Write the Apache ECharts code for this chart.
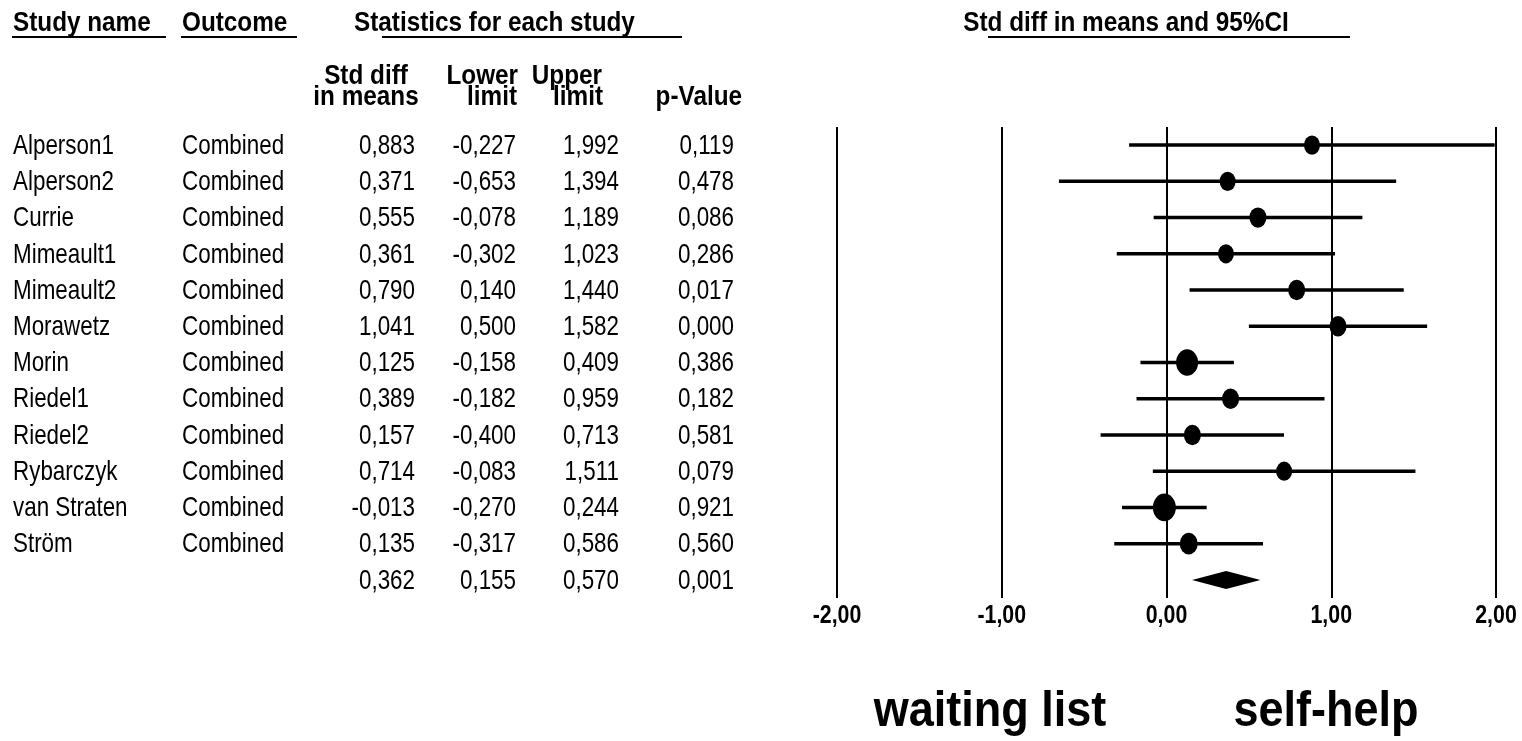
<!DOCTYPE html>
<html><head><meta charset="utf-8">
<script src="https://cdn.jsdelivr.net/npm/echarts@6/dist/echarts.min.js"></script>
<style>html,body{margin:0;padding:0;background:#fff}#c{width:1522px;height:741px}</style>
</head><body><div id="c"></div>
<script>
// ---------- data ----------
const studies = ['Alperson1','Alperson2','Currie','Mimeault1','Mimeault2','Morawetz','Morin','Riedel1','Riedel2','Rybarczyk','van Straten','Ström'];
const outcomes = ['Combined','Combined','Combined','Combined','Combined','Combined','Combined','Combined','Combined','Combined','Combined','Combined'];
const effect = [0.883,0.371,0.555,0.361,0.790,1.041,0.125,0.389,0.157,0.714,-0.013,0.135];
const lower  = [-0.227,-0.653,-0.078,-0.302,0.140,0.500,-0.158,-0.182,-0.400,-0.083,-0.270,-0.317];
const upper  = [1.992,1.394,1.189,1.023,1.440,1.582,0.409,0.959,0.713,1.511,0.244,0.586];
const pValue = [0.119,0.478,0.086,0.286,0.017,0.000,0.386,0.182,0.581,0.079,0.921,0.560];
const weight = [16,16,17,16,17,17,22,17,17,16,23,18]; // relative study weight (marker size)
const summaryEffect = [0.362];
const summaryLower = [0.155];
const summaryUpper = [0.570];
const summaryP = [0.001];
const xTicks = [-2,-1,0,1,2];

// ---------- helpers ----------
const fmt = v => v.toFixed(3).replace('.', ',');
const fmtTick = v => v.toFixed(2).replace('.', ',');
const rows = studies.concat(['Summary']);
const FONT = '"Liberation Sans",Arial,sans-serif';

const colText = {
  name: studies.concat(['']),
  outcome: outcomes.concat(['']),
  effect: effect.concat(summaryEffect).map(fmt),
  lower: lower.concat(summaryLower).map(fmt),
  upper: upper.concat(summaryUpper).map(fmt),
  p: pValue.concat(summaryP).map(fmt)
};
const columns = [
  {key:'name', x:13, align:'left'},
  {key:'outcome', x:182, align:'left'},
  {key:'effect', x:415, align:'right'},
  {key:'lower', x:516, align:'right'},
  {key:'upper', x:619, align:'right'},
  {key:'p', x:734, align:'right'}
];

const GTOP = 127, GH = 471;
const BODY_FONT = '28px ' + FONT, BODY_SX = 0.8;

const tableSeries = columns.map(col => ({
  type:'custom', xAxisIndex:1, yAxisIndex:1, silent:true,
  data: rows.map((r,i)=>[col.x, i]),
  encode:{x:0, y:1},
  renderItem:(params, api) => {
    const p = api.coord([api.value(0), api.value(1)]);
    return {type:'text', x:p[0], y:p[1]+1, scaleX:BODY_SX, style:{
      text: colText[col.key][params.dataIndex], textAlign: col.align, textVerticalAlign:'middle',
      font: BODY_FONT, fill:'#000'}};
  }
}));

const ciSeries = {
  type:'custom', xAxisIndex:0, yAxisIndex:0, silent:true,
  data: studies.map((s,i)=>[lower[i], upper[i], i]),
  encode:{x:[0,1], y:2},
  renderItem:(params, api) => {
    const y = api.value(2);
    const a = api.coord([api.value(0), y]);
    const b = api.coord([api.value(1), y]);
    return {type:'line', shape:{x1:a[0], y1:a[1], x2:b[0], y2:b[1]}, style:{stroke:'#000', lineWidth:3.5}};
  }
};

const pointSeries = {
  type:'scatter', xAxisIndex:0, yAxisIndex:0, silent:true,
  symbol:'circle',
  data: studies.map((s,i)=>({value:[effect[i], i], symbolSize:[weight[i], weight[i]*1.2]})),
  itemStyle:{color:'#000', opacity:1}
};

const diamondSeries = {
  type:'custom', xAxisIndex:0, yAxisIndex:0, silent:true,
  data: [[summaryLower[0], summaryEffect[0], summaryUpper[0], studies.length]],
  encode:{x:[0,1,2], y:3},
  renderItem:(params, api) => {
    const y = api.value(3);
    const l = api.coord([api.value(0), y]);
    const m = api.coord([api.value(1), y]);
    const r = api.coord([api.value(2), y]);
    const h = 9;
    return {type:'polygon', shape:{points:[[l[0],l[1]],[m[0],m[1]-h],[r[0],r[1]],[m[0],m[1]+h]]}, style:{fill:'#000'}};
  }
};

// tick labels drawn through the x axis scale
const tickSeries = {
  type:'custom', xAxisIndex:0, yAxisIndex:0, silent:true,
  data: xTicks.map(t=>[t, rows.length-1]),
  encode:{x:0, y:1},
  renderItem:(params, api) => {
    const p = api.coord([api.value(0), api.value(1)]);
    return {type:'text', x:p[0], y:616, scaleX:0.82, style:{
      text: fmtTick(xTicks[params.dataIndex]), textAlign:'center', textVerticalAlign:'middle',
      font:'bold 26px ' + FONT, fill:'#000'}};
  }
};

const HDR = 'bold 27px ' + FONT, HSX = 0.9;
const htext = (text, x, y, align) => ({type:'text', x:x, y:y, scaleX:HSX,
  style:{text:text, font:HDR, fill:'#000', textAlign:align||'left', textVerticalAlign:'middle'}});
const hline = (x1, x2, y) => ({type:'line', shape:{x1:x1,y1:y,x2:x2,y2:y}, style:{stroke:'#000', lineWidth:2}});

const option = {
  animation:false,
  backgroundColor:'#fff',
  grid:[
    {left:837, right:26, top:GTOP, height:GH},
    {left:0, width:1522, top:GTOP, height:GH}
  ],
  xAxis:[
    {type:'value', gridIndex:0, min:xTicks[0], max:xTicks[xTicks.length-1], interval:1,
     axisLine:{show:false}, axisTick:{show:false}, axisLabel:{show:false},
     splitLine:{show:true, showMinLine:true, showMaxLine:true, lineStyle:{color:'#000', width:2}}},
    {type:'value', gridIndex:1, min:0, max:1522, show:false}
  ],
  yAxis:[
    {type:'category', gridIndex:0, data:rows, inverse:true, show:false},
    {type:'category', gridIndex:1, data:rows, inverse:true, show:false}
  ],
  series:[ciSeries, pointSeries, diamondSeries, tickSeries].concat(tableSeries),
  graphic:[
    htext('Study name', 13, 24), hline(12, 166, 37),
    htext('Outcome', 182, 24), hline(181, 297, 37),
    htext('Statistics for each study', 354, 24), hline(382, 682, 37),
    htext('Std diff', 366, 77, 'center'),
    htext('in means', 366, 98, 'center'),
    htext('Lower', 518, 77, 'right'),
    htext('limit', 517, 98, 'right'),
    htext('Upper', 602, 77, 'right'),
    htext('limit', 603, 98, 'right'),
    htext('p-Value', 742, 98, 'right'),
    htext('Std diff in means and 95%CI', 1126, 24, 'center'), hline(988, 1350, 37),
    {type:'text', x:990, y:712, scaleX:0.9, style:{text:'waiting list', font:'bold 50px ' + FONT, fill:'#000', textAlign:'center', textVerticalAlign:'middle'}},
    {type:'text', x:1326, y:712, scaleX:0.9, style:{text:'self-help', font:'bold 50px ' + FONT, fill:'#000', textAlign:'center', textVerticalAlign:'middle'}}
  ]
};
const chart = echarts.init(document.getElementById('c'));
chart.setOption(option);
</script></body></html>
